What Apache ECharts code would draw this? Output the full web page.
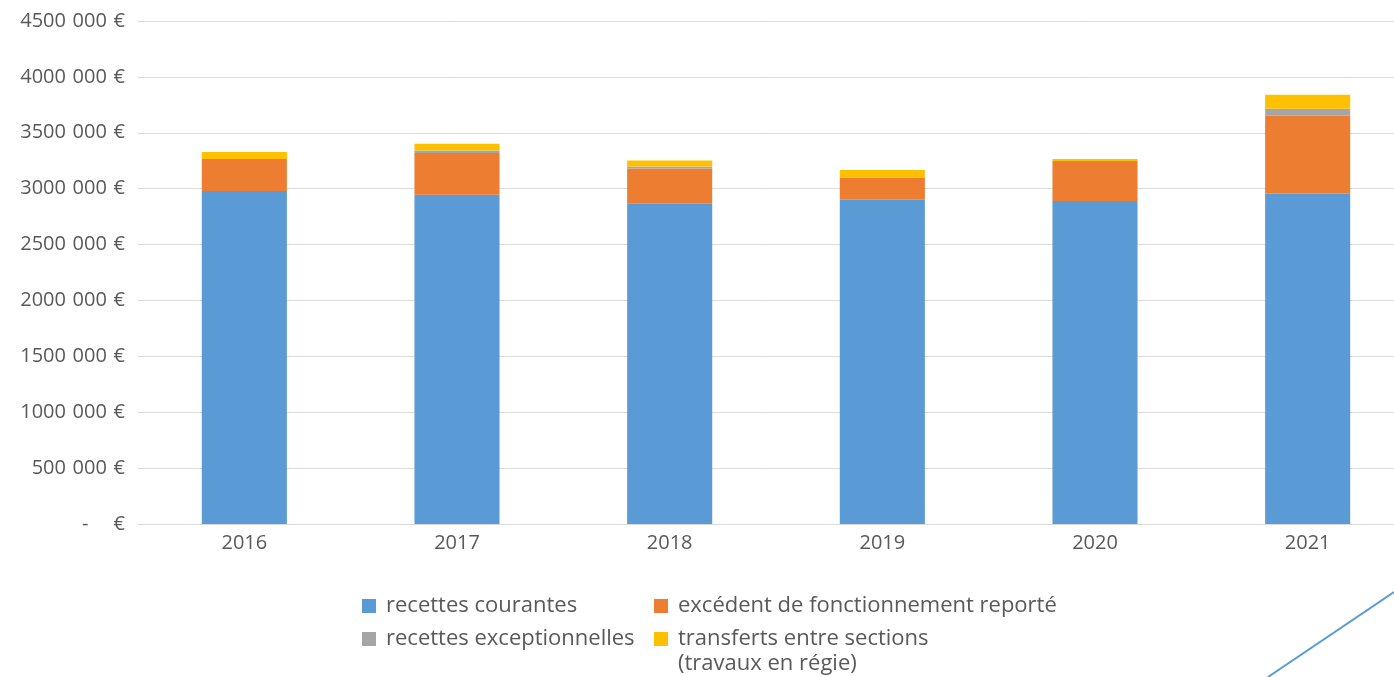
<!DOCTYPE html>
<html>
<head>
<meta charset="utf-8">
<script src="https://cdn.jsdelivr.net/npm/echarts@6/dist/echarts.min.js"></script>
<style>
  html, body { margin: 0; padding: 0; background: #fff; }
  #chart { width: 1394px; height: 677px; }
</style>
</head>
<body>
<div id="chart"></div>
<script>
// données (en €)
var years = ['2016', '2017', '2018', '2019', '2020', '2021'];
var recettesCourantes = [2980000, 2945000, 2870000, 2900000, 2890000, 2955000];
var excedentReporte = [285000, 375000, 310000, 197000, 357000, 698000];
var recettesExceptionnelles = [0, 21000, 18000, 6000, 0, 63000];
var transfertsSections = [62000, 60000, 53000, 63000, 18000, 125000];

var seriesNames = [
  'recettes courantes',
  'excédent de fonctionnement reporté',
  'recettes exceptionnelles',
  'transferts entre sections (travaux en régie)'
];
var colors = ['#5B9BD5', '#ED7D31', '#A5A5A5', '#FFC000'];

var yMax = 4500000;
var yStep = 500000;

var font = 'Open Sans';
var textColor = '#595959';
var sp = '\u2004'; // espace un peu plus large, comme dans Excel

// format "4500 000 €" comme dans Excel
function euro(v) {
  if (v === 0) return '-' + sp + sp + sp + ' €';
  var th = Math.floor(v / 1000);
  var rest = String(v % 1000).padStart(3, '0');
  return th + sp + rest + sp + '€';
}

function makeLegend(name, left, top, formatter) {
  return {
    orient: 'vertical',
    left: left,
    top: top,
    padding: 0,
    itemWidth: 14,
    itemHeight: 14,
    icon: 'rect',
    selectedMode: false,
    data: [name],
    formatter: formatter || '{name}',
    textStyle: {
      color: textColor,
      fontFamily: font,
      fontSize: 22,
      lineHeight: 25,
      padding: [0, 0, 0, 5]
    }
  };
}

var chart = echarts.init(document.getElementById('chart'));

var option = {
  backgroundColor: '#fff',
  animation: false,
  color: colors,
  // la zone de tracé dépasse à droite de l'image (coupée)
  grid: {
    left: 138,
    width: 1276,
    top: 21,
    bottom: 153,
    outerBoundsMode: 'none',
    containLabel: false
  },
  legend: [
    makeLegend(seriesNames[0], 362, 593.5),
    makeLegend(seriesNames[2], 362, 626.5),
    makeLegend(seriesNames[1], 654, 593.5),
    // ligne vide en tête pour garder le carré aligné sur la 1re ligne
    makeLegend(seriesNames[3], 654, 601.5, function () {
      return '\ntransferts entre sections\n(travaux en régie)';
    })
  ],
  xAxis: {
    type: 'category',
    data: years,
    axisLine: { lineStyle: { color: '#D9D9D9', width: 1 } },
    axisTick: { show: false },
    axisLabel: {
      color: textColor,
      fontFamily: font,
      fontSize: 20,
      margin: 9
    }
  },
  yAxis: {
    type: 'value',
    min: 0,
    max: yMax,
    interval: yStep,
    axisLine: { show: false },
    axisTick: { show: false },
    splitLine: { lineStyle: { color: '#D9D9D9', width: 1 } },
    axisLabel: {
      color: textColor,
      fontFamily: font,
      fontSize: 20,
      margin: 13,
      formatter: euro
    }
  },
  series: [
    { name: seriesNames[0], type: 'bar', stack: 'total', barWidth: '40%', data: recettesCourantes },
    { name: seriesNames[1], type: 'bar', stack: 'total', barWidth: '40%', data: excedentReporte },
    { name: seriesNames[2], type: 'bar', stack: 'total', barWidth: '40%', data: recettesExceptionnelles },
    { name: seriesNames[3], type: 'bar', stack: 'total', barWidth: '40%', data: transfertsSections }
  ],
  // trait décoratif en bas à droite
  graphic: [{
    type: 'line',
    silent: true,
    shape: { x1: 1268, y1: 677, x2: 1394, y2: 592 },
    style: { stroke: '#5B9BD5', lineWidth: 2 }
  }]
};

chart.setOption(option);
</script>
</body>
</html>
